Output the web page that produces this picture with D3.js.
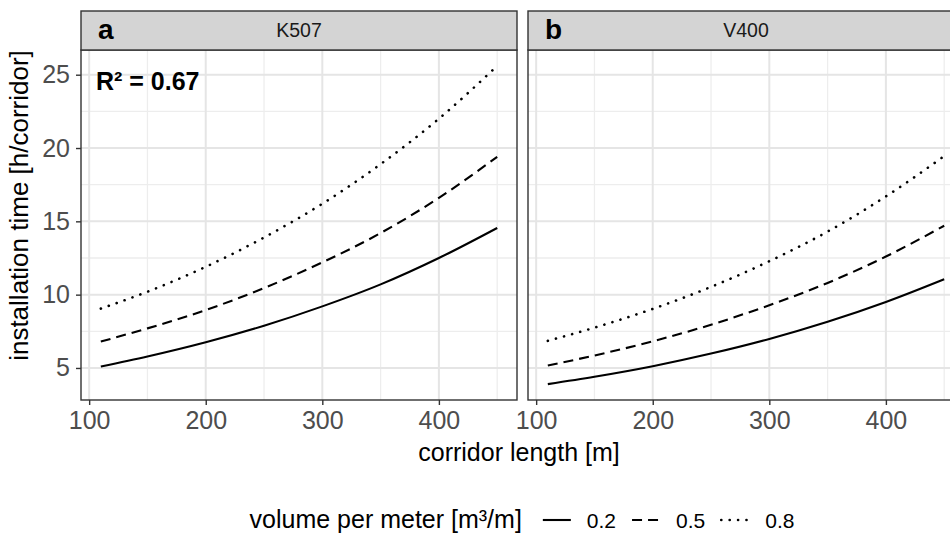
<!DOCTYPE html>
<html>
<head>
<meta charset="utf-8">
<script src="https://cdn.jsdelivr.net/npm/d3@7"></script>
<style>
  body { margin: 0; background: #fff; overflow: hidden; }
  svg { display: block; font-family: "Liberation Sans", Arial, sans-serif; }
</style>
</head>
<body>
<svg id="chart" width="950" height="537" viewBox="0 0 950 537"></svg>
<script>
// corridor length [m] where the curves were read
const lengths = [110, 150, 200, 250, 300, 350, 400, 450];
const volumes = ["0.2", "0.5", "0.8"];
const panels = [
    {tag: "a", name: "K507"},
    {tag: "b", name: "V400"}
];
// installation time [h/corridor], one array per panel and volume
const k507_02 = [5.1, 5.78, 6.75, 7.88, 9.2, 10.7, 12.5, 14.55];
const k507_05 = [6.8, 7.7, 8.95, 10.45, 12.2, 14.2, 16.6, 19.4];
const k507_08 = [9.05, 10.2, 11.9, 13.9, 16.2, 18.9, 22.0, 25.6];
const v400_02 = [3.9, 4.4, 5.12, 5.98, 6.98, 8.15, 9.5, 11.05];
const v400_05 = [5.17, 5.85, 6.82, 7.95, 9.28, 10.8, 12.6, 14.7];
const v400_08 = [6.85, 7.75, 9.03, 10.53, 12.28, 14.3, 16.7, 19.45];
const xTicks = [100, 200, 300, 400];
const xMinor = [150, 250, 350, 450];
const yTicks = [5, 10, 15, 20, 25];
const yMinor = [7.5, 12.5, 17.5, 22.5];
const r2Label = "R\u00b2 = 0.67";

const series = {
    K507: [k507_02, k507_05, k507_08],
    V400: [v400_02, v400_05, v400_08]
};

let svg = d3.select("#chart");

const panelLeft = [81, 528];
const panelWidth = 436;
const stripTop = 11, plotTop = 50, plotBottom = 400;
const dashes = ["none", "10,6", "0.1,8.3"];
const caps = ["butt", "butt", "round"];
const tickColor = "#4d4d4d";

function expand(ext) {
    let pad = (ext[1] - ext[0]) * 0.05;
    return [ext[0] - pad, ext[1] + pad];
}

let allValues = [].concat(k507_02, k507_05, k507_08, v400_02, v400_05, v400_08);
let y = d3.scaleLinear()
    .domain(expand(d3.extent(allValues)))
    .range([plotBottom, plotTop]);

panels.forEach(function(p, i) {
    let x0 = panelLeft[i];
    let x = d3.scaleLinear()
        .domain(expand(d3.extent(lengths)))
        .range([x0, x0 + panelWidth]);

    let g = svg.append("g");

    // grid
    g.selectAll(".minx").data(xMinor).enter().append("line")
        .attr("x1", d => x(d)).attr("x2", d => x(d))
        .attr("y1", plotTop).attr("y2", plotBottom)
        .style("stroke", "#ededed").style("stroke-width", 1.3);
    g.selectAll(".miny").data(yMinor).enter().append("line")
        .attr("x1", x0).attr("x2", x0 + panelWidth)
        .attr("y1", d => y(d)).attr("y2", d => y(d))
        .style("stroke", "#ededed").style("stroke-width", 1.3);
    g.selectAll(".majx").data(xTicks).enter().append("line")
        .attr("x1", d => x(d)).attr("x2", d => x(d))
        .attr("y1", plotTop).attr("y2", plotBottom)
        .style("stroke", "#e5e5e5").style("stroke-width", 2);
    g.selectAll(".majy").data(yTicks).enter().append("line")
        .attr("x1", x0).attr("x2", x0 + panelWidth)
        .attr("y1", d => y(d)).attr("y2", d => y(d))
        .style("stroke", "#e5e5e5").style("stroke-width", 2);

    let line = d3.line()
        .x((d, j) => x(lengths[j]))
        .y(d => y(d))
        .curve(d3.curveMonotoneX);

    g.selectAll(".curve").data(series[p.name]).enter().append("path")
        .attr("d", d => line(d))
        .style("fill", "none")
        .style("stroke", "#000")
        .style("stroke-width", (d, j) => j === 2 ? 2.6 : 2.1)
        .style("stroke-linecap", (d, j) => caps[j])
        .style("stroke-dasharray", (d, j) => dashes[j]);

    // panel border and strip
    g.append("rect")
        .attr("x", x0).attr("y", plotTop)
        .attr("width", panelWidth).attr("height", plotBottom - plotTop)
        .style("fill", "none").style("stroke", "#333").style("stroke-width", 1.4);
    g.append("rect")
        .attr("x", x0).attr("y", stripTop)
        .attr("width", panelWidth).attr("height", plotTop - stripTop)
        .style("fill", "#d4d4d4").style("stroke", "#333").style("stroke-width", 1.4);
    g.append("text")
        .attr("x", x0 + panelWidth / 2).attr("y", 37)
        .attr("text-anchor", "middle")
        .style("font-size", "19.5px").style("fill", "#1a1a1a")
        .text(p.name);
    g.append("text")
        .attr("x", x0 + 17).attr("y", 39)
        .style("font-size", "28px").style("font-weight", "bold")
        .text(p.tag);

    // x axis
    let xAxis = g.append("g")
        .attr("transform", "translate(0," + plotBottom + ")")
        .call(d3.axisBottom(x).tickValues(xTicks).tickSize(5).tickPadding(6));
    xAxis.select(".domain").remove();
    xAxis.selectAll("line").style("stroke", "#333").style("stroke-width", 1.4);
    xAxis.selectAll("text").style("font-size", "25px").style("fill", tickColor)
        .style("font-family", "Liberation Sans, Arial, sans-serif");

    if (i === 0) {
        let yAxis = g.append("g")
            .attr("transform", "translate(" + x0 + ",0)")
            .call(d3.axisLeft(y).tickValues(yTicks).tickSize(5).tickPadding(6));
        yAxis.select(".domain").remove();
        yAxis.selectAll("line").style("stroke", "#333").style("stroke-width", 1.4);
        yAxis.selectAll("text").style("font-size", "25px").style("fill", tickColor)
            .style("font-family", "Liberation Sans, Arial, sans-serif");

        g.append("text")
            .attr("x", x0 + 15).attr("y", 90)
            .style("font-size", "25px").style("font-weight", "bold")
            .text(r2Label);
    }
});

// axis titles
svg.append("text")
    .attr("x", 519).attr("y", 461)
    .attr("text-anchor", "middle")
    .style("font-size", "25px")
    .text("corridor length [m]");
svg.append("text")
    .attr("transform", "translate(28," + (stripTop + plotBottom) / 2 + ") rotate(-90)")
    .attr("text-anchor", "middle")
    .style("font-size", "26px")
    .text("installation time [h/corridor]");

// legend
let legend = svg.append("g");
let title = legend.append("text")
    .attr("x", 0).attr("y", 528)
    .style("font-size", "25px")
    .text("volume per meter [m\u00b3/m]");
let cx = title.node().getComputedTextLength() + 21;
volumes.forEach(function(v, j) {
    legend.append("line")
        .attr("x1", cx).attr("x2", cx + 28)
        .attr("y1", 520).attr("y2", 520)
        .style("stroke", "#000")
        .style("stroke-width", j === 2 ? 2.6 : 2.1)
        .style("stroke-linecap", caps[j])
        .style("stroke-dasharray", dashes[j]);
    cx += 28 + 16;
    let t = legend.append("text")
        .attr("x", cx).attr("y", 528)
        .style("font-size", "21px")
        .text(v);
    cx += t.node().getComputedTextLength() + 16;
});
cx -= 16;
legend.attr("transform", "translate(" + (522 - cx / 2) + ",0)");
</script>
</body>
</html>
